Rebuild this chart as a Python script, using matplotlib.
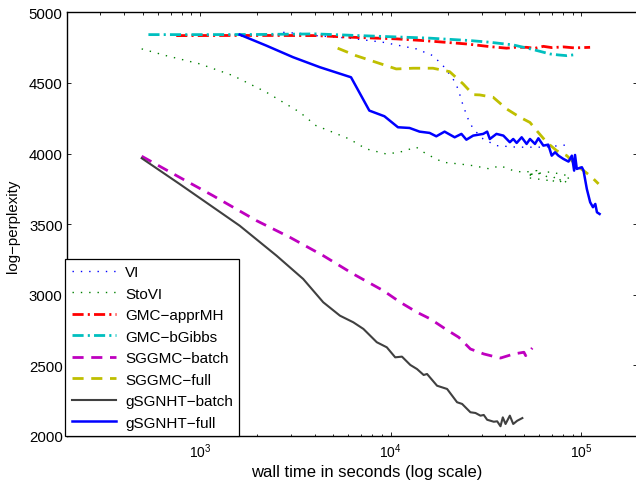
import math
import matplotlib
matplotlib.use("Agg")
import matplotlib.pyplot as plt
from matplotlib.ticker import LogLocator, FixedLocator, NullFormatter, FuncFormatter

plt.rcParams['font.family'] = ['Liberation Sans', 'DejaVu Sans']
plt.rcParams['mathtext.fontset'] = 'custom'
plt.rcParams['mathtext.rm'] = 'Liberation Sans'
plt.rcParams['mathtext.it'] = 'Liberation Sans'
plt.rcParams['mathtext.bf'] = 'Liberation Sans'
plt.rcParams['mathtext.default'] = 'regular'
plt.rcParams['lines.scale_dashes'] = False

M = '\u2212'
labels = ['VI', 'StoVI', 'GMC' + M + 'apprMH', 'GMC' + M + 'bGibbs',
          'SGGMC' + M + 'batch', 'SGGMC' + M + 'full',
          'gSGNHT' + M + 'batch', 'gSGNHT' + M + 'full']

# ---- data (wall time in seconds, log-perplexity) ----
vi_t = [2730, 3400, 4054, 6070, 9100, 13620, 16670, 18820, 21250, 22580, 23990,
        25480, 27090, 30570, 35890, 45800, 63240, 85700]
vi_v = [4858, 4850, 4835, 4817, 4788, 4741, 4693, 4622, 4528, 4457, 4339,
        4245, 4174, 4103, 4056, 4045, 4045, 4062]

stovi_t = [494, 664, 995, 1488, 2228, 3340, 4054, 4966, 6070, 7430, 9466, 11120,
           13620, 15380, 18820, 23010, 27090, 33120, 37410, 43940, 49660, 58350,
           51640, 68500, 74300, 80500, 87300, 74300, 62000, 52000, 68500, 87300]
stovi_v = [4741, 4693, 4635, 4552, 4434, 4292, 4198, 4151, 4103, 4033, 3997, 4009,
           4045, 3997, 3938, 3926, 3914, 3891, 3914, 3879, 3867, 3879,
           3830, 3808, 3843, 3785, 3832, 3790, 3860, 3850, 3870, 3840]

gmcmh_t = [750, 1500, 2500, 4054, 6070, 10690, 14760, 24950, 33120, 40550, 45000,
           51640, 57000, 63240, 70000, 80500, 92000, 111200]
gmcmh_v = [4835, 4836, 4836, 4835, 4824, 4812, 4800, 4776, 4757, 4746, 4752,
           4752, 4745, 4759, 4750, 4755, 4748, 4752]

gmcbg_t = [536, 1000, 2000, 4054, 6854, 11590, 15990, 26000, 33120, 43940, 55960,
           68500, 76000, 83900, 92700]
gmcbg_v = [4842, 4842, 4843, 4847, 4835, 4824, 4817, 4800, 4788, 4769, 4736,
           4705, 4698, 4693, 4700]

sgbatch_t = [494, 780, 1168, 1977, 2959, 4427, 6368, 9158, 11220, 13747, 16140,
             19360, 22750, 26200, 30780, 36200, 37680, 44270, 50000, 51060, 55300]
sgbatch_v = [3981, 3832, 3702, 3525, 3407, 3277, 3147, 3029, 2947, 2876, 2829,
             2758, 2699, 2616, 2581, 2557, 2552, 2581, 2593, 2569, 2623]

sgfull_t = [5270, 6580, 8390, 10690, 13100, 16670, 20370, 23990, 27090, 29310,
            34500, 40550, 47640, 53800, 58350, 65800, 74300, 83900, 94700, 102700,
            111300, 123200]
sgfull_v = [4746, 4693, 4646, 4599, 4604, 4604, 4580, 4493, 4417, 4415,
            4398, 4316, 4257, 4220, 4162, 4080, 4020, 3985, 3914, 3879,
            3843, 3785]

gbatch_t = [494, 780, 1614, 2518, 3475, 4427, 5418, 6368, 7195, 8455, 9543, 10563,
            11459, 12677, 13747, 14893, 15520, 17510, 19770, 22300, 23700, 26200,
            27850, 29580, 30780, 32070, 34740, 36200, 37680, 38740, 40050, 42170,
            43940, 46110, 49060]
gbatch_v = [3967, 3785, 3489, 3277, 3112, 2947, 2852, 2805, 2758, 2664, 2628, 2557,
            2562, 2503, 2474, 2432, 2439, 2356, 2333, 2239, 2227, 2168,
            2163, 2144, 2149, 2115, 2101, 2104, 2069, 2132, 2085, 2144,
            2085, 2108, 2127]

gfull_t = [1614, 2228, 3076, 4256, 6194, 7727, 9268, 10920, 12560, 14180, 16000,
           17350, 19180, 21660, 23500, 24950, 27090, 30570, 32070, 33120, 35890,
           39000, 42170, 43940, 45800, 48650, 51640, 53800, 57150, 59540, 63240,
           67100, 69940, 72830, 75860, 80500, 85700, 89200, 91700, 92700, 94700,
           100700, 102700, 106900, 111300, 115100, 118400, 120800, 124700]
gfull_v = [4842, 4764, 4682, 4611, 4540, 4304, 4264, 4186, 4181, 4155, 4146,
           4122, 4155, 4115, 4139, 4098, 4127, 4139, 4155, 4103, 4139,
           4127, 4080, 4103, 4075, 4115, 4068, 4103, 4068, 4108, 4056,
           4063, 3985, 4009, 3985, 3962, 3943, 3985, 3879, 3990, 3891,
           3903, 3879, 3749, 3655, 3620, 3643, 3584, 3572]

xlim = (200, 1.95e5)
ylim = (2000, 5000)
yticks = [2000, 2500, 3000, 3500, 4000, 4500, 5000]
xticks = [1e3, 1e4, 1e5]

W, H = 636, 481
fig = plt.figure(figsize=(W / 100, H / 100), dpi=100)
L, R, T, B = 66.8, 636.6, 13.3, 437.0
ax = fig.add_axes([L / W, (H - B) / H, (R - L) / W, (B - T) / H])

dot = (0, (1.0, 5.0))
dashdot = (0, (8, 3, 1.5, 3))
dash = (0, (8, 5.5))

ax.plot(vi_t, vi_v, color=(0, 0, 1), lw=1.0, linestyle=dot, label=labels[0])
ax.plot(stovi_t, stovi_v, color=(0, 0.5, 0), lw=1.0, linestyle=dot, label=labels[1])
ax.plot(gmcmh_t, gmcmh_v, color=(1, 0, 0), lw=2.0, linestyle=dashdot, label=labels[2])
ax.plot(gmcbg_t, gmcbg_v, color=(0, 0.75, 0.75), lw=2.0, linestyle=dashdot, label=labels[3])
ax.plot(sgbatch_t, sgbatch_v, color=(0.75, 0, 0.75), lw=2.0, linestyle=dash, label=labels[4])
ax.plot(sgfull_t, sgfull_v, color=(0.75, 0.75, 0), lw=2.0, linestyle=dash, label=labels[5])
ax.plot(gbatch_t, gbatch_v, color=(0.25, 0.25, 0.25), lw=1.5, linestyle='-', label=labels[6])
ax.plot(gfull_t, gfull_v, color=(0, 0, 1), lw=1.8, linestyle='-', label=labels[7])

ax.set_xscale('log')
ax.set_xlim(*xlim)
ax.set_ylim(*ylim)
ax.xaxis.set_major_locator(FixedLocator(xticks))
ax.xaxis.set_major_formatter(FuncFormatter(lambda v, p: r'$10^{%d}$' % round(math.log10(v))))
ax.xaxis.set_minor_locator(LogLocator(base=10, subs=range(2, 10), numticks=20))
ax.xaxis.set_minor_formatter(NullFormatter())
ax.yaxis.set_major_locator(FixedLocator(yticks))

for s in ax.spines.values():
    s.set_linewidth(1.0)
    s.set_color('black')
ax.tick_params(which='both', direction='in', top=True, right=True, colors='black',
               width=0.6)
ax.tick_params(which='major', length=3.0, pad=3)
ax.tick_params(which='minor', length=1.8)
ax.tick_params(axis='y', labelsize=10.8)
ax.tick_params(axis='x', which='major', pad=4, labelsize=10)

ax.set_xlabel('wall time in seconds (log scale)', fontsize=12)
ax.set_ylabel('log' + M + 'perplexity', fontsize=10.8)
ax.xaxis.set_label_coords((367 - L) / (R - L), (B - 473) / (B - T))
ax.xaxis.label.set_va('center')
ax.yaxis.set_label_coords((13 - L) / (R - L), (B - 226) / (B - T))
ax.yaxis.label.set_va('center')

leg = ax.legend(loc='lower left', bbox_to_anchor=(-0.003, 0.0), borderaxespad=0,
                fontsize=11, frameon=True, fancybox=False, framealpha=1,
                edgecolor='black', handlelength=2.9, handletextpad=0.6,
                labelspacing=0.49, borderpad=0.42)
leg.get_frame().set_linewidth(0.9)

fig.savefig('out.png', dpi=100)
